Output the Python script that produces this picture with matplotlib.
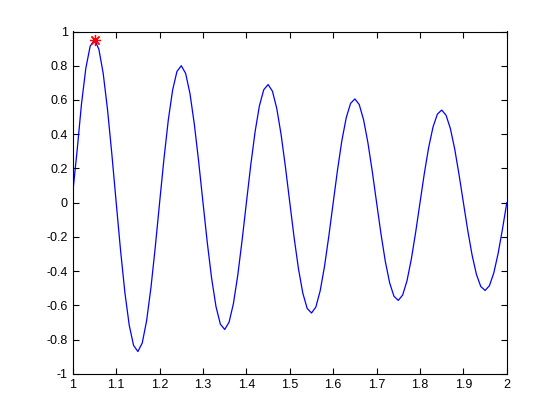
import numpy as np
import matplotlib
matplotlib.use('Agg')
import matplotlib.pyplot as plt

# samples every 0.01 from 1 to 2
t = np.linspace(1, 2, 101)
y = [0.06, 0.306, 0.576, 0.785, 0.914, 0.952, 0.897, 0.756, 0.544, 0.283,
     0.0, -0.278, -0.525, -0.716, -0.834, -0.870, -0.820, -0.691, -0.498, -0.260,
     0.0, 0.255, 0.482, 0.658, 0.767, 0.800, 0.755, 0.637, 0.459, 0.240,
     0.0, -0.236, -0.445, -0.608, -0.710, -0.741, -0.699, -0.591, -0.426, -0.222,
     0.0, 0.219, 0.414, 0.566, 0.660, 0.690, 0.651, 0.550, 0.397, 0.207,
     0.0, -0.205, -0.387, -0.529, -0.618, -0.645, -0.610, -0.515, -0.372, -0.194,
     0.0, 0.192, 0.363, 0.496, 0.580, 0.606, 0.573, 0.484, 0.350, 0.183,
     0.0, -0.181, -0.342, -0.468, -0.547, -0.571, -0.540, -0.457, -0.330, -0.173,
     0.0, 0.171, 0.323, 0.442, 0.517, 0.541, 0.511, 0.433, 0.313, 0.163,
     0.0, -0.162, -0.306, -0.419, -0.490, -0.513, -0.485, -0.411, -0.297, -0.155,
     0.0]

# the marked maximum
peak_t = [1.05]
peak_y = [0.952]

plt.rcParams['font.family'] = ['Liberation Sans', 'DejaVu Sans']

fig = plt.figure(figsize=(5.6, 4.2), dpi=100)
ax = fig.add_axes([0.13, 0.11, 0.775, 0.815])

ax.plot(t, y, color='#0000ff', linewidth=0.9)
ax.plot(peak_t, peak_y, marker=(8, 2, 0), color='red', markersize=8,
        linestyle='none', markeredgewidth=0.9)

ax.set_xlim(1, 2)
ax.set_ylim(-1, 1)
ax.set_xticks(np.arange(1, 2.01, 0.1))
ax.set_xticklabels(['1', '1.1', '1.2', '1.3', '1.4', '1.5', '1.6', '1.7', '1.8', '1.9', '2'])
ax.set_yticks(np.arange(-1, 1.01, 0.2))
ax.set_yticklabels(['-1', '-0.8', '-0.6', '-0.4', '-0.2', '0', '0.2', '0.4', '0.6', '0.8', '1'])
ax.tick_params(direction='in', top=True, right=True, length=4, width=0.8, labelsize=9)
for s in ax.spines.values():
    s.set_linewidth(0.8)

fig.savefig('out.png', dpi=100)
